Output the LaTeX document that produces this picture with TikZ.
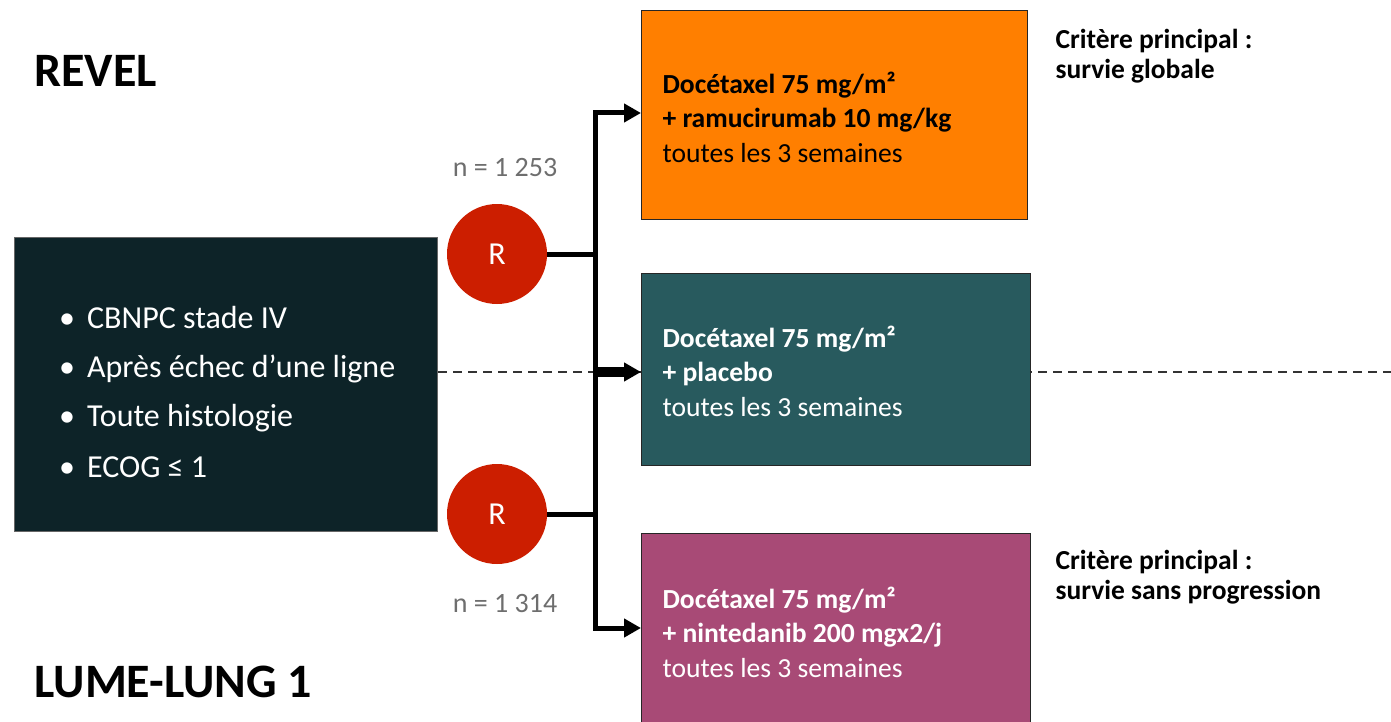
\documentclass[tikz,border=0pt]{standalone}
\usepackage{fontspec}
\setmainfont{Carlito}
\usetikzlibrary{arrows.meta}
\definecolor{orangebox}{HTML}{FF7F00}
\definecolor{tealbox}{HTML}{285A5E}
\definecolor{magbox}{HTML}{A84A76}
\definecolor{darkbox}{HTML}{0D2328}
\definecolor{rred}{HTML}{CC1E00}
\definecolor{ngray}{HTML}{6E6E6E}
\tikzset{
  armbox/.style={draw=black!85, line width=1.2pt, anchor=north west, inner sep=0pt},
  armtext/.style={anchor=west, font=\fontsize{27.6}{34.5}\selectfont, align=left},
  rcirc/.style={circle, fill=rred, minimum size=100pt, inner sep=0pt, text=white, font=\fontsize{32}{34}\selectfont},
  ntext/.style={text=ngray, font=\fontsize{28}{30}\selectfont},
  title/.style={anchor=west, font=\fontsize{48}{52}\selectfont\bfseries},
  crit/.style={anchor=north west, font=\fontsize{27.5}{30}\selectfont\bfseries, align=left},
  flow/.style={line width=5pt},
  arr/.style={line width=5pt, -{Triangle[length=17pt,width=18pt]}},
  dashline/.style={line width=1.3pt, black!80, dash pattern=on 9pt off 6pt},
  bullet/.style={anchor=west, text=white, font=\fontsize{32}{36}\selectfont, text height=22pt, text depth=7pt, inner sep=0pt}
}
\begin{document}
\begin{tikzpicture}[x=1pt,y=-1pt]
\useasboundingbox (0,0) rectangle (1391,722);
% dashed line
\coordinate (dl) at (438,372);
\coordinate (dr) at (1391,372);
\draw[dashline] (dl) -- (dr);
% boxes
\node[armbox, fill=orangebox, minimum width=386pt, minimum height=209pt] (ob) at (641,10) {};
\node[armbox, fill=tealbox, minimum width=389pt, minimum height=192pt] (tb) at (641,273) {};
\node[armbox, fill=magbox, minimum width=389pt, minimum height=200pt] (mb) at (641,533) {};
\node[armbox, draw=black!60, line width=1pt, fill=darkbox, minimum width=423pt, minimum height=294pt] (lb) at (14,237) {};
% titles
\node[title] (revel) at (31,71) {REVEL};
\node[title] (lume) at (31,682) {LUME-LUNG 1};
% bullets
\node[bullet] (b1) at (59,321) {\textbullet\hspace{12pt}CBNPC stade IV};
\node[bullet] (b2) at (59,370) {\textbullet\hspace{12pt}Après échec d’une ligne};
\node[bullet] (b3) at (59,419) {\textbullet\hspace{12pt}Toute histologie};
\node[bullet] (b4) at (59,470) {\textbullet\hspace{12pt}ECOG ≤ 1};
% circles
\node[rcirc] (r1) at (497,254) {R};
\node[rcirc] (r2) at (497,514) {R};
\node[ntext] (n1) at (505,168) {n = 1 253};
\node[ntext] (n2) at (505,604) {n = 1 314};
% connectors
\coordinate (j1) at (595,254);
\coordinate (j2) at (595,514);
\coordinate (vt) at (595,113);
\coordinate (vb) at (595,628);
\coordinate (vm) at (595,372);
\draw[flow] (r1.east) -- (j1);
\draw[flow] (r2.east) -- (j2);
\draw[flow, line cap=rect] (vt) -- (vb);
\draw[arr] (vt) -- (vt -| ob.west);
\draw[arr] (vb) -- (vb -| mb.west);
\draw[arr, line width=10pt] (vm) -- (vm -| tb.west);
% arm texts
\node[armtext] (ot) at (659,117) {\textbf{Docétaxel 75 mg/m²}\\\textbf{+ ramucirumab 10 mg/kg}\\toutes les 3 semaines};
\node[armtext, text=white] (tt) at (659,371) {\textbf{Docétaxel 75 mg/m²}\\\textbf{+ placebo}\\toutes les 3 semaines};
\node[armtext, text=white] (mt) at (659,632) {\textbf{Docétaxel 75 mg/m²}\\\textbf{+ nintedanib 200 mgx2/j}\\toutes les 3 semaines};
% criteria
\node[crit] (c1) at (1052,26) {Critère principal :\\survie globale};
\node[crit] (c2) at (1052,547) {Critère principal :\\survie sans progression};
\end{tikzpicture}
\end{document}
